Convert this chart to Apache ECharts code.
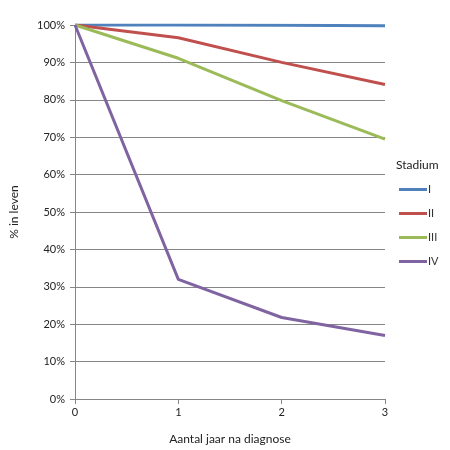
<!DOCTYPE html>
<html>
<head>
<meta charset="utf-8">
<script src="https://cdn.jsdelivr.net/npm/echarts@6/dist/echarts.min.js"></script>
<style>
  html, body { margin: 0; padding: 0; background: #fff; }
  #chart { width: 450px; height: 450px; }
</style>
</head>
<body>
<div id="chart"></div>
<script>
// survival per stage
var years = [0, 1, 2, 3];
var stadiumNames = ['I', 'II', 'III', 'IV'];
var stadiumI = [100, 100, 99.9, 99.8];
var stadiumII = [100, 96.6, 90, 84.1];
var stadiumIII = [100, 91.1, 79.8, 69.5];
var stadiumIV = [100, 32, 21.8, 17];
var yTicks = [0, 10, 20, 30, 40, 50, 60, 70, 80, 90, 100];

var colors = ['#4F81BD', '#C0504D', '#9BBB59', '#8064A2'];
var allValues = [stadiumI, stadiumII, stadiumIII, stadiumIV];
var font = 'Lato';

function pairs(vals) {
    return years.map(function (y, i) { return [y, vals[i]]; });
}

var chart = echarts.init(document.getElementById('chart'));
chart.setOption({
    animation: false,
    textStyle: { fontFamily: font },
    title: {
        text: 'Stadium',
        left: 391,
        top: 154,
        textStyle: { fontFamily: font, fontSize: 12, fontWeight: 'normal', color: '#222' }
    },
    legend: {
        orient: 'vertical',
        left: 394,
        top: 179,
        itemWidth: 28,
        itemHeight: 14,
        itemGap: 13,
        icon: 'path://M0,0 L28,0 L28,3 L0,3 Z',
        data: stadiumNames,
        textStyle: { fontFamily: font, fontSize: 11, color: '#333', padding: [0, 0, 0, -4] }
    },
    grid: { left: 73, right: 65, top: 25, bottom: 51 },
    xAxis: {
        type: 'value',
        min: 0,
        max: 3,
        interval: 1,
        name: 'Aantal jaar na diagnose',
        nameLocation: 'middle',
        nameGap: 34,
        nameTextStyle: { fontFamily: font, fontSize: 12, color: '#222' },
        axisLine: { lineStyle: { color: '#868686', width: 1 } },
        axisTick: { show: true, length: 5, lineStyle: { color: '#868686' } },
        axisLabel: { fontFamily: font, fontSize: 11, color: '#222', margin: 8 },
        splitLine: { show: false }
    },
    yAxis: {
        type: 'value',
        min: yTicks[0],
        max: yTicks[yTicks.length - 1],
        interval: 10,
        name: '% in leven',
        nameLocation: 'middle',
        nameGap: 55,
        nameTextStyle: { fontFamily: font, fontSize: 12, color: '#222' },
        axisLine: { show: true, lineStyle: { color: '#868686', width: 1 } },
        axisTick: { show: true, length: 5, lineStyle: { color: '#868686' } },
        axisLabel: { fontFamily: font, fontSize: 11, color: '#222', margin: 10, formatter: '{value}%' },
        splitLine: { show: true, lineStyle: { color: '#868686', width: 1 } }
    },
    series: stadiumNames.map(function (n, i) {
        return {
            name: n,
            type: 'line',
            data: pairs(allValues[i]),
            symbol: 'none',
            color: colors[i],
            lineStyle: { width: 3, color: colors[i] },
            z: 2 + i
        };
    })
});
</script>
</body>
</html>
